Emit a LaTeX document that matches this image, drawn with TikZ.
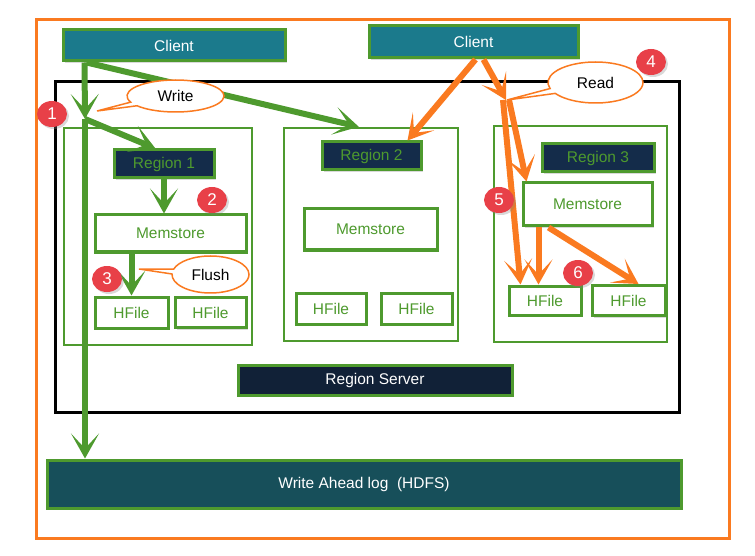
\documentclass[tikz,border=0pt]{standalone}
\usepackage{fontspec}
\setmainfont{Liberation Sans}
\usetikzlibrary{positioning,arrows.meta,shapes.geometric,shapes.callouts,shadows}
\definecolor{hgreen}{RGB}{78,154,46}
\definecolor{horange}{RGB}{250,122,32}
\definecolor{hteal}{RGB}{27,122,140}
\definecolor{hnavy}{RGB}{20,44,74}
\definecolor{hdark}{RGB}{17,33,55}
\definecolor{hwal}{RGB}{23,79,90}
\definecolor{hred}{RGB}{232,64,72}
\begin{document}
\begin{tikzpicture}[x=1pt,y=-1pt,
	txt/.style={font=\fontsize{15.5}{17}\selectfont},
	shade3/.style={drop shadow={opacity=0.3,shadow xshift=2pt,shadow yshift=-2pt}},
	darkbox/.style={draw=hgreen,line width=3pt,inner sep=0pt,txt,shade3},
	whitebox/.style={draw=hgreen,line width=3pt,fill=white,text=hgreen,inner sep=0pt,txt,shade3},
	colbox/.style={draw=hgreen,line width=2.5pt,inner sep=0pt},
	warrow/.style={draw=hgreen,line width=6pt,-{Stealth[length=25pt,width=28pt,inset=15pt]}},
	rarrow/.style={draw=horange,line width=6pt,-{Stealth[length=25pt,width=28pt,inset=15pt]}},
	badge/.style={ellipse,fill=hred,text=white,minimum width=30pt,minimum height=26pt,inner sep=0pt,font=\fontsize{17}{17}\selectfont,shade3},
	bubble/.style={ellipse callout,draw=horange,line width=1.5pt,fill=white,inner sep=0pt,txt}]
	\useasboundingbox (0,0) rectangle (755,556);
	\node[draw=horange,line width=3pt,minimum width=693pt,minimum height=518pt] (outer) at (382.5,279) {};
	\node[draw=black,line width=3pt,minimum width=624pt,minimum height=330pt] (server) at (367,247) {};
	
	\node[darkbox,fill=hteal,text=white,minimum width=222pt,minimum height=31pt] (client1) at (174,45.5) {Client};
	\node[darkbox,fill=hteal,text=white,minimum width=209pt,minimum height=32pt] (client2) at (473.5,42) {Client};
	
	\node[colbox,minimum width=188pt,minimum height=217pt] (col1) at (158,236.5) {};
	\node[colbox,minimum width=174pt,minimum height=213pt] (col2) at (371,234.5) {};
	\node[colbox,minimum width=173pt,minimum height=216pt] (col3) at (580.5,234) {};
	
	\node[darkbox,fill=hnavy,text=hgreen,minimum width=100pt,minimum height=28pt] (reg1) at (164,164) {Region 1};
	\node[darkbox,fill=hnavy,text=hgreen,minimum width=99pt,minimum height=28pt] (reg2) at (371.5,156) {Region 2};
	\node[darkbox,fill=hnavy,text=hgreen,minimum width=112pt,minimum height=28pt] (reg3) at (598,158) {Region 3};
	
	\node[whitebox,minimum width=151pt,minimum height=37pt] (mem1) at (170.5,233.5) {Memstore};
	\node[whitebox,minimum width=133pt,minimum height=41pt] (mem2) at (370.5,229.5) {Memstore};
	\node[whitebox,minimum width=129pt,minimum height=43pt] (mem3) at (587.5,204.5) {Memstore};
	
	\node[whitebox,minimum width=73pt,minimum height=31pt] (hf1a) at (131.5,312.5) {HFile};
	\node[whitebox,minimum width=71pt,minimum height=30pt,right=4pt of hf1a] (hf1b) {HFile};
	\node[whitebox,minimum width=70pt,minimum height=31pt] (hf2a) at (331,308.5) {HFile};
	\node[whitebox,minimum width=71pt,minimum height=31pt,right=12pt of hf2a] (hf2b) {HFile};
	\node[whitebox,minimum width=72pt,minimum height=29pt] (hf3a) at (545,300.5) {HFile};
	\node[whitebox,minimum width=73pt,minimum height=30pt,right=8pt of hf3a] (hf3b) {HFile};
	
	\node[darkbox,fill=hdark,text=white,minimum width=274pt,minimum height=30pt] (rs) at (375,380) {Region Server};
	\node[darkbox,fill=hwal,text=white,minimum width=634pt,minimum height=48pt] (wal) at (364,484) {Write Ahead log~~(HDFS)};
	
	\coordinate (wsplit) at (85,119);
	\coordinate (rsplit) at (506,100);
	
	\draw[warrow] ([xshift=23pt]client1.south west)--(wsplit);
	\draw[warrow] (wsplit)--([xshift=43pt]reg1.north west);
	\draw[warrow] (wsplit)--(wsplit |- wal.north);
	\draw[warrow] ([xshift=25pt]client1.south west)--([xshift=76pt]col2.north west);
	\draw[warrow] (reg1.south)--(reg1.south |- mem1.north);
	\draw[warrow] (hf1a.north |- mem1.south)--(hf1a.north);
	
	\draw[rarrow] ([xshift=108pt]client2.south west)--([xshift=87pt]reg2.north west);
	\draw[rarrow] ([xshift=116pt]client2.south west)--(rsplit);
	\draw[rarrow] ([xshift=3pt]rsplit)--([xshift=5pt]mem3.north west);
	\draw[rarrow] ([xshift=-3pt]rsplit)--([xshift=13pt]hf3a.north west);
	\draw[rarrow] ([xshift=17pt]mem3.south west)--([xshift=31pt]hf3a.north west);
	\draw[rarrow] ([xshift=27pt]mem3.south west)--([xshift=48pt]hf3b.north west);
	
	\node[bubble,minimum width=97pt,minimum height=32pt,callout absolute pointer={(97,111)}] (cwrite) at (175.5,96) {Write};
	\node[bubble,minimum width=95pt,minimum height=41pt,callout absolute pointer={(507,100)}] (cread) at (595.5,82.5) {Read};
	\node[bubble,minimum width=77pt,minimum height=37pt,callout absolute pointer={(139,269)}] (cflush) at (210.5,274.5) {Flush};
	
	\node[badge] (b1) at (52,114) {1};
	\node[badge] (b2) at (212,200) {2};
	\node[badge] (b3) at (107,279) {3};
	\node[badge] (b4) at (651,62) {4};
	\node[badge] (b5) at (499,200) {5};
	\node[badge] (b6) at (578,273) {6};
\end{tikzpicture}
\end{document}
